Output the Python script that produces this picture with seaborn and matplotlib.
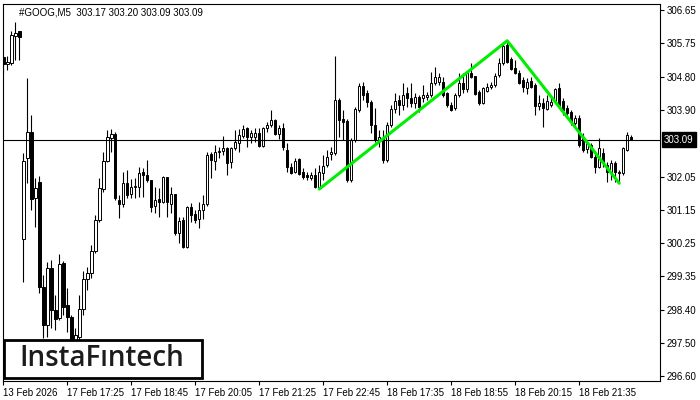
import numpy as np
import pandas as pd
import seaborn as sns
import matplotlib.pyplot as plt
from matplotlib.patches import Rectangle
from matplotlib.transforms import blended_transform_factory

sns.set_style("white")
plt.rcParams['font.family'] = ['Liberation Sans', 'DejaVu Sans']

# GOOG M5 bars (13 Feb close, 17 Feb, 18 Feb)
open_ = [305.36, 305.17, 305.19, 305.94, 306.07, 300.36, 302.59, 303.30, 301.49, 301.93,
         299.04, 298.00, 299.57, 298.41, 298.19, 299.70, 298.55, 298.22, 297.31, 297.67,
         298.44, 299.26, 299.43, 300.03, 300.88, 301.73, 302.50, 303.13, 303.25, 301.43,
         301.32, 301.90, 301.60, 301.79, 301.79, 302.20, 302.12, 301.98, 301.27, 301.46,
         301.38, 302.06, 301.32, 301.60, 300.53, 300.88, 300.14, 301.24, 301.05, 300.91,
         301.16, 301.32, 302.70, 302.50, 302.75, 302.78, 302.86, 302.48, 302.86, 303.00,
         303.19, 303.41, 303.16, 303.16, 303.27, 302.91, 303.41, 303.49, 303.63, 303.25,
         303.41, 302.81, 302.34, 302.20, 302.56, 302.20, 302.12, 302.04, 302.12, 301.79,
         302.17, 302.39, 302.70, 302.72, 304.18, 303.66, 303.60, 301.98, 303.08, 303.90,
         304.56, 304.37, 304.12, 303.49, 303.08, 303.13, 302.53, 303.49, 303.93, 304.18,
         304.04, 304.37, 304.23, 304.10, 304.26, 304.23, 304.26, 304.32, 304.65, 304.67,
         304.67, 304.37, 304.04, 303.96, 304.32, 304.65, 304.48, 304.92, 304.84, 304.40,
         304.10, 304.43, 304.54, 304.59, 304.87, 305.19, 305.69, 305.30, 305.06, 304.92,
         304.73, 304.51, 304.70, 304.59, 304.01, 304.10, 303.93, 304.04, 304.12, 304.51,
         304.15, 303.96, 303.85, 303.55, 303.68, 303.16, 302.83, 302.94, 302.61, 302.34,
         302.72, 302.39, 302.20, 302.45, 302.17, 302.17, 302.81, 303.17]
high = [305.39, 305.39, 306.07, 306.32, 306.08, 302.72, 304.78, 303.77, 302.04, 302.09,
        299.37, 299.73, 299.79, 298.82, 299.95, 299.76, 299.02, 298.27, 297.92, 298.82,
        299.48, 299.59, 300.20, 301.02, 302.04, 302.75, 303.36, 303.38, 303.30, 301.57,
        302.20, 302.26, 302.01, 302.04, 302.34, 302.31, 302.53, 301.98, 301.79, 301.76,
        302.09, 302.06, 301.79, 301.60, 300.97, 300.97, 301.27, 301.35, 301.16, 301.38,
        301.57, 302.75, 302.75, 302.94, 302.89, 303.19, 302.89, 302.89, 303.36, 303.38,
        303.49, 303.44, 303.36, 303.41, 303.41, 303.44, 303.57, 303.90, 303.66, 303.49,
        303.55, 303.00, 302.45, 302.59, 302.59, 302.31, 302.20, 302.20, 302.31, 302.39,
        302.67, 302.81, 302.89, 305.39, 304.23, 303.90, 303.66, 303.13, 303.99, 304.65,
        304.67, 304.45, 304.18, 303.96, 303.36, 303.36, 303.57, 304.04, 304.37, 304.32,
        304.65, 304.54, 304.65, 304.37, 304.32, 304.59, 304.40, 304.95, 305.08, 304.92,
        304.81, 304.40, 304.12, 304.37, 304.92, 304.92, 304.95, 305.19, 304.84, 304.45,
        304.54, 304.65, 304.67, 304.92, 305.33, 305.74, 305.80, 305.36, 305.28, 305.00,
        304.81, 304.78, 304.81, 304.65, 304.32, 304.23, 304.32, 304.26, 304.51, 304.65,
        304.23, 304.04, 303.90, 303.77, 303.77, 303.27, 303.02, 303.00, 302.72, 303.13,
        302.86, 302.48, 302.53, 302.50, 302.26, 302.89, 303.30, 303.20]
low = [304.92, 305.00, 305.14, 305.28, 305.28, 299.18, 301.90, 301.16, 300.69, 298.88,
       297.64, 297.67, 297.92, 297.86, 298.14, 298.27, 297.81, 297.04, 297.04, 297.04,
       298.27, 298.96, 299.29, 299.98, 300.83, 301.65, 302.48, 302.75, 301.43, 300.94,
       301.24, 301.49, 301.49, 301.49, 301.51, 301.51, 301.93, 301.10, 301.07, 300.97,
       301.35, 300.97, 301.07, 300.47, 300.25, 300.12, 300.12, 300.83, 300.80, 300.66,
       300.91, 301.27, 302.04, 302.26, 302.59, 302.67, 302.12, 302.31, 302.81, 302.75,
       303.13, 302.89, 303.00, 303.02, 302.89, 302.89, 303.30, 303.44, 303.22, 303.11,
       302.81, 302.20, 302.15, 302.17, 302.12, 302.01, 301.98, 301.98, 301.76, 301.76,
       301.98, 302.34, 302.53, 302.67, 303.16, 303.08, 301.93, 301.93, 303.02, 303.85,
       304.18, 303.99, 303.27, 303.02, 302.89, 302.45, 302.48, 303.44, 303.82, 303.77,
       303.90, 303.99, 303.99, 303.96, 303.85, 304.12, 304.18, 304.26, 304.59, 304.59,
       304.26, 303.99, 303.88, 303.90, 304.26, 304.37, 304.40, 304.78, 304.32, 304.04,
       304.07, 304.40, 304.48, 304.54, 304.81, 305.14, 305.19, 305.00, 304.89, 304.62,
       304.40, 304.34, 304.51, 303.77, 303.90, 303.44, 303.90, 303.99, 304.10, 303.99,
       303.77, 303.77, 303.49, 303.49, 302.89, 302.75, 302.72, 302.59, 302.17, 302.31,
       302.34, 301.93, 301.98, 301.93, 301.90, 302.12, 302.78, 303.09]
close = [305.17, 305.22, 305.96, 306.02, 305.91, 302.50, 303.30, 301.46, 301.76, 299.04,
         298.00, 299.57, 298.41, 298.16, 299.67, 298.50, 298.22, 297.31, 297.72, 298.44,
         299.26, 299.43, 300.03, 300.88, 301.76, 302.50, 303.16, 303.25, 301.49, 301.32,
         301.90, 301.57, 301.79, 301.82, 302.17, 302.12, 301.98, 301.24, 301.43, 301.38,
         302.06, 301.38, 301.60, 300.53, 300.86, 300.14, 301.24, 301.02, 300.88, 301.16,
         301.32, 302.67, 302.53, 302.75, 302.78, 302.86, 302.45, 302.86, 303.02, 303.22,
         303.38, 303.16, 303.27, 303.27, 302.91, 303.41, 303.49, 303.63, 303.25, 303.41,
         302.89, 302.34, 302.17, 302.50, 302.15, 302.06, 302.06, 302.12, 301.79, 302.20,
         302.37, 302.61, 302.75, 304.18, 303.63, 303.57, 301.98, 303.08, 303.93, 304.56,
         304.32, 304.12, 303.49, 303.08, 303.16, 302.53, 303.49, 303.93, 304.15, 304.04,
         304.32, 304.23, 304.10, 304.26, 303.99, 304.32, 304.32, 304.65, 304.81, 304.81,
         304.32, 304.04, 303.90, 304.32, 304.65, 304.48, 304.92, 304.81, 304.34, 304.10,
         304.51, 304.54, 304.59, 304.84, 305.19, 305.66, 305.22, 305.03, 304.92, 304.65,
         304.54, 304.67, 304.54, 304.01, 304.10, 303.96, 304.15, 304.12, 304.48, 304.01,
         303.90, 303.82, 303.57, 303.68, 302.94, 302.81, 303.00, 302.61, 302.34, 302.86,
         302.48, 302.20, 302.45, 302.20, 302.20, 302.86, 303.22, 303.09]

time_labels = ['13 Feb 2026', '17 Feb 17:25', '17 Feb 18:45', '17 Feb 20:05', '17 Feb 21:25',
               '17 Feb 22:45', '18 Feb 17:35', '18 Feb 18:55', '18 Feb 20:15', '18 Feb 21:35']
price_ticks = [306.65, 305.75, 304.80, 303.90, 302.05, 301.15, 300.25, 299.35, 298.40, 297.50, 296.60]
last_price = 303.09
pattern_bar = [79, 126, 154]
pattern_price = [301.73, 305.80, 301.89]

df = pd.DataFrame({'open': open_, 'high': high, 'low': low, 'close': close})
df['bar'] = np.arange(len(df))
df['up'] = df['close'] >= df['open']
body_bottom = np.minimum(df['open'], df['close'])
body_height = np.maximum((df['close'] - df['open']).abs(), 0.012)

fig = plt.figure(figsize=(7, 4), dpi=100)
ax = fig.add_axes([3/700, 19/400, 657/700, 377/400])

ax.vlines(df['bar'], df['low'], df['high'], color='black', lw=0.8, zorder=2)
ax.bar(df['bar'], body_height, bottom=body_bottom, width=0.6,
       color=np.where(df['up'], 'white', 'black'), edgecolor='black', linewidth=0.7, zorder=3)
ax.axhline(last_price, color='black', lw=0.8, zorder=3.5)

sns.lineplot(x=pattern_bar, y=pattern_price, color='#00ee00', linewidth=2.2, ax=ax, zorder=4)

ax.set_xlim(-0.08, 164.2)
ax.set_ylim(296.46, 306.81)
ax.yaxis.tick_right()
ax.set_yticks(price_ticks)
ax.set_yticklabels([f'{v:.2f}' for v in price_ticks])
ax.set_xticks(range(0, 16 * len(time_labels), 16))
ax.set_xticklabels(time_labels, ha='left')
ax.tick_params(axis='y', direction='out', length=3, width=0.8, labelsize=7, pad=2,
               right=True, left=False, colors='black')
ax.tick_params(axis='x', direction='out', length=3, width=0.8, labelsize=7, pad=2,
               bottom=True, colors='black')
for s in ax.spines.values():
    s.set_visible(True)
    s.set_color('black')
    s.set_linewidth(0.8)
ax.set_xlabel('')
ax.set_ylabel('')

ax.text(0.024, 0.99, '#GOOG,M5  303.17 303.20 303.09 303.09', transform=ax.transAxes,
        ha='left', va='top', fontsize=7, color='black')

trans = blended_transform_factory(ax.transAxes, ax.transData)
ax.text(1.006, last_price, f'{last_price:.2f}', transform=trans, ha='left', va='center',
        fontsize=7, color='white', clip_on=False, zorder=6,
        bbox=dict(boxstyle='square,pad=0.25', fc='black', ec='black'))

# logo box
fig.add_artist(Rectangle((4/700, 22/400), 198/700, 38/400, transform=fig.transFigure,
                         fc='white', ec='black', lw=2, zorder=10))
fig.text(102/700, 41/400, 'InstaFıntech', ha='center', va='center', fontsize=20,
         fontweight='semibold', color='#1c1c1c', family=['Open Sans', 'DejaVu Sans'], zorder=11)

plt.savefig('out.png', dpi=100)
